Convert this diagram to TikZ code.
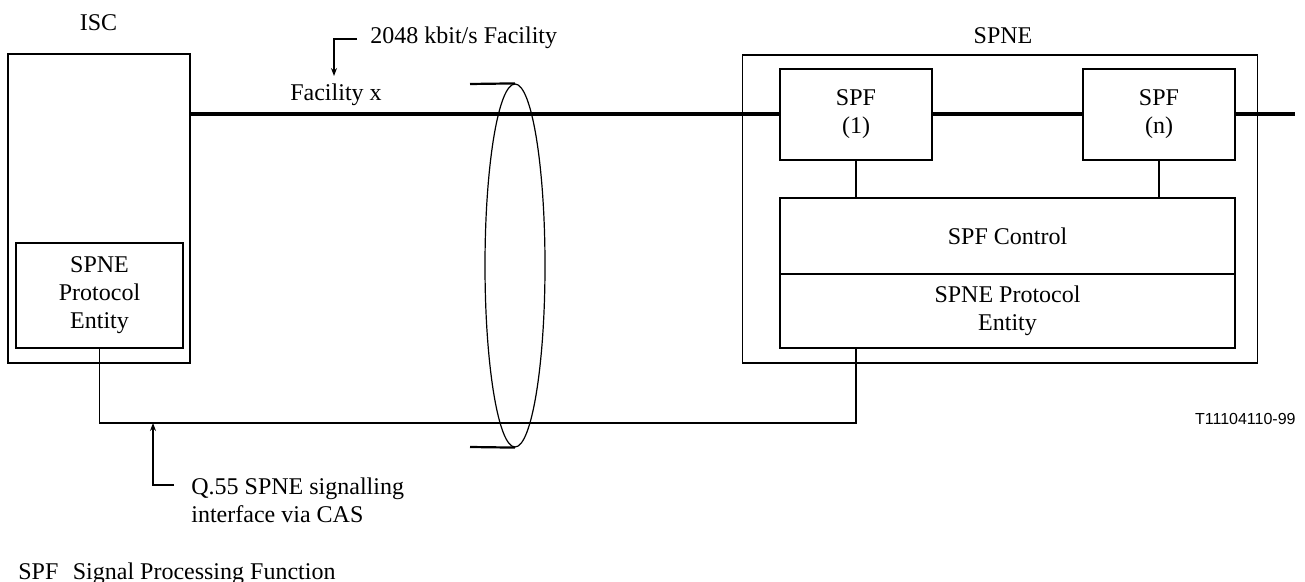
\documentclass[tikz,border=0pt]{standalone}
\usepackage{fontspec}
\setmainfont{Liberation Serif}
\newfontfamily\arialfont{Liberation Sans}
\usetikzlibrary{shapes.geometric,arrows.meta}
\begin{document}
\begin{tikzpicture}[x=0.5pt,y=-0.5pt,
  every node/.style={font=\fontsize{12pt}{14pt}\selectfont},
  box/.style={draw, line width=0.6pt, inner sep=0pt, align=center},
  thin/.style={line width=0.6pt},
  thick/.style={line width=2pt},
  endline/.style={line width=1.1pt},
  lbl/.style={inner sep=0pt},
  arr/.style={line width=0.6pt, -{Stealth[length=4pt,width=3pt]}}]
\useasboundingbox (0,0) rectangle (1305,582);
% outer boxes
\node[box, minimum width=91pt, minimum height=154.5pt] (isc) at (99,208.5) {};
\node[box, minimum width=83.5pt, minimum height=52.5pt] (iscpe) at (99.5,295.5) {SPNE\\Protocol\\Entity};
\node[box, minimum width=257.5pt, minimum height=154pt] (spne) at (1000,209) {};
\node[box, minimum width=76pt, minimum height=45.5pt] (spf1) at (856,114.5) {SPF\\(1)};
\node[box, minimum width=76pt, minimum height=45.5pt] (spfn) at (1159,114.5) {SPF\\(n)};
\node[box, minimum width=227.5pt, minimum height=38pt] (ctrl) at (1007.5,236) {SPF Control};
\node[box, minimum width=227.5pt, minimum height=37pt] (ent) at (1007.5,311) {SPNE Protocol\\Entity};
% labels
\node[lbl, anchor=base] (isclbl) at (98.5,31) {ISC};
\node[lbl, anchor=base] (spnelbl) at (1003,44) {SPNE};
\node[lbl, anchor=base west] (fac) at (370,44) {2048 kbit/s Facility};
\node[lbl, anchor=base] (facx) at (336,101) {Facility x};
\node[lbl, anchor=west, align=left] (q55) at (191,500) {Q.55 SPNE signalling\\interface via CAS};
\node[lbl, anchor=base west] (legend) at (18,579) {SPF\hspace{0.6em}Signal Processing Function};
\node[lbl, anchor=base east, font=\arialfont\fontsize{8pt}{10pt}\selectfont] (tag) at (1296,424) {T11104110-99};
% ellipse
\node[draw, ellipse, line width=0.6pt, inner sep=0pt, minimum width=30pt, minimum height=181.5pt] (ell) at (515,265.5) {};
\coordinate (eTop) at (470,84);
\coordinate (eBot) at (470,447);
\draw[endline] (eTop) -- (ell.north);
\draw[endline] (eBot) -- (ell.south);
% thick facility line
\coordinate (out) at (1295,114.5);
\draw[thick] (isc.east |- spf1.west) -- (spf1.west);
\draw[thick] (spf1.east) -- (spfn.west);
\draw[thick] (spfn.east) -- (out);
% SPF to control
\draw[thin] (spf1.south) -- (spf1.south |- ctrl.north);
\draw[thin] (spfn.south) -- (spfn.south |- ctrl.north);
% signalling line
\coordinate (sigR) at (856,423);
\draw[thin] (iscpe.south) |- (sigR) -- (spf1.south |- ent.south);
% facility arrow
\coordinate (fa1) at (357,39);
\coordinate (fa2) at (334,39);
\coordinate (fa3) at (334,76);
\draw[arr] (fa1) -- (fa2) -- (fa3);
% q55 arrow
\coordinate (qa1) at (174,485);
\coordinate (qa2) at (153,485);
\coordinate (qa3) at (153,423);
\draw[arr] (qa1) -- (qa2) -- (qa3);
\end{tikzpicture}
\end{document}
